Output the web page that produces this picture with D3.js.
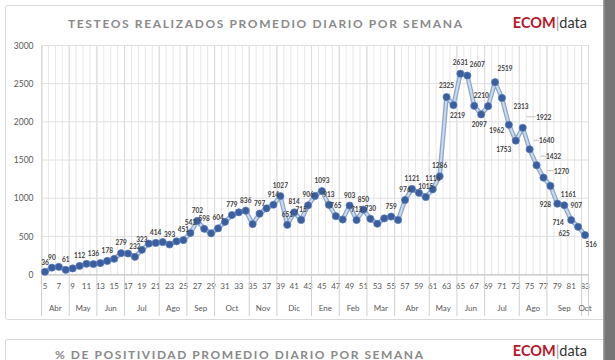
<!DOCTYPE html>
<html>
<head>
<meta charset="utf-8">
<script src="https://cdn.jsdelivr.net/npm/d3@7"></script>
<style>
  html, body { margin: 0; padding: 0; background: #ffffff; }
  svg { display: block; }
</style>
</head>
<body>
<svg id="chart" width="615" height="360"></svg>
<script>
// ---------------- DATA ----------------
const weeks = [5,6,7,8,9,10,11,12,13,14,15,16,17,18,19,20,21,22,23,24,25,26,27,28,29,30,31,32,33,34,35,36,37,38,39,40,41,42,43,44,
  45,46,47,48,49,50,51,52,53,54,55,56,57,58,59,60,61,62,63,64,65,66,67,68,69,70,71,72,73,74,75,76,77,78,79,80,81,82,83];
const testsPerDay = [36,90,100,61,80,112,140,136,150,178,205,279,275,232,323,405,414,425,393,435,
  451,543,702,598,540,604,690,779,815,836,660,797,867,914,1027,651,814,715,906,1030,
  1093,913,765,720,903,713,850,730,665,735,759,714,976,1121,1070,1015,1116,1286,2325,2219,
  2631,2607,2210,2097,2205,2519,2313,1962,1753,1922,1640,1432,1270,1161,928,907,714,625,516];
const labelledWeeks = [5,6,8,10,12,14,16,18,19,21,23,25,26,27,28,30,32,34,36,38,39,40,41,42,43,45,46,47,49,50,51,52,55,
  57,58,60,61,62,63,64,65,66,67,68,70,71,72,73,74,75,76,77,78,79,80,81,82,83];
const yTicks = [0,500,1000,1500,2000,2500,3000];
const weekTickLabels = [5,7,9,11,13,15,17,19,21,23,25,27,29,31,33,35,37,39,41,43,45,47,49,51,53,55,57,59,61,63,65,67,69,71,73,75,77,79,81,83];
const monthNames = ["Abr","May","Jun","Jul","Ago","Sep","Oct","Nov","Dic","Ene","Feb","Mar","Abr","May","Jun","Jul","Ago","Sep","Oct"];
const monthFirstWeek = [5,9,13,17,22,26,30,35,39,44,48,52,56,61,65,69,74,78,83];
const title1 = "TESTEOS REALIZADOS  PROMEDIO DIARIO POR SEMANA";
const title2 = "% DE POSITIVIDAD PROMEDIO DIARIO POR SEMANA";

// ---------------- DRAW ----------------
const svg = d3.select("#chart");
const FONT = "Lato, 'Open Sans', 'DejaVu Sans', sans-serif";

// panels
svg.append("rect").attr("x",5.5).attr("y",5.5).attr("width",602).attr("height",314)
  .attr("rx",2).attr("fill","#fff").attr("stroke","#d9d9d9");
svg.append("rect").attr("x",5.5).attr("y",339.5).attr("width",602).attr("height",60)
  .attr("rx",2).attr("fill","#fff").attr("stroke","#d9d9d9");

const pLeft = 41.5, pRight = 588.5, pTop = 45.5, pBottom = 274.5;
const x = d3.scaleBand().domain(weeks).range([pLeft, pRight]).padding(0);
const bw = x.bandwidth();
const cx = w => x(w) + bw / 2;
const y = d3.scaleLinear().domain([0, 3000]).range([pBottom, pTop]);

const grid = svg.append("g");
grid.selectAll("line.vg").data(weeks.concat([null])).join("line")
  .attr("x1", (d,i) => pLeft + i*bw).attr("x2", (d,i) => pLeft + i*bw)
  .attr("y1", pTop).attr("y2", pBottom)
  .attr("stroke", "#e8e8e8").attr("stroke-width", 1);
const monthBounds = monthFirstWeek.slice(1).map(w => x(w)).concat([pRight]);
grid.selectAll("line.mb").data(monthBounds).join("line")
  .attr("x1", d => d).attr("x2", d => d)
  .attr("y1", pTop).attr("y2", pBottom)
  .attr("stroke", "#dadada").attr("stroke-width", 1);
grid.selectAll("line.hg").data(yTicks).join("line")
  .attr("x1", pLeft).attr("x2", pRight)
  .attr("y1", d => y(d)).attr("y2", d => y(d))
  .attr("stroke", "#e0e0e0").attr("stroke-width", 1);

// y axis
const yAxis = svg.append("g").attr("transform", `translate(${pLeft},0)`)
  .call(d3.axisLeft(y).tickValues(yTicks).tickSize(0).tickPadding(8).tickFormat(d3.format("d")));
yAxis.select(".domain").attr("stroke", "#d0d0d0");
yAxis.selectAll("text").attr("font-family", FONT).attr("font-size", 8.5).attr("fill", "#595959");

// x axis (weeks)
const xAxis = svg.append("g").attr("transform", `translate(0,${pBottom})`)
  .call(d3.axisBottom(x).tickValues(weekTickLabels).tickSize(0).tickPadding(8.5));
xAxis.select(".domain").attr("stroke", "#bfbfbf");
xAxis.selectAll("text").attr("font-family", FONT).attr("font-size", 8).attr("fill", "#595959");

// month separators in axis area
const axisSeps = [pLeft].concat(monthBounds);
svg.append("g").selectAll("line").data(axisSeps).join("line")
  .attr("x1", d => d).attr("x2", d => d)
  .attr("y1", pBottom).attr("y2", 316)
  .attr("stroke", "#d0d0d0").attr("stroke-width", 1);
svg.append("g").selectAll("text").data(monthNames).join("text")
  .attr("x", (d,i) => {
    const a = x(monthFirstWeek[i]);
    const b = i + 1 < monthFirstWeek.length ? x(monthFirstWeek[i+1]) : pRight;
    return (a + b) / 2;
  })
  .attr("y", 310.5)
  .attr("text-anchor", "middle")
  .attr("font-family", FONT).attr("font-size", 8).attr("fill", "#595959")
  .text(d => d);

// line
const pts = weeks.map((w,i) => [cx(w), y(testsPerDay[i])]);
const line = d3.line();
svg.append("path").attr("d", line(pts)).attr("fill","none")
  .attr("stroke","#8fa8c9").attr("stroke-width",4.6).attr("stroke-linejoin","round");
svg.append("path").attr("d", line(pts)).attr("fill","none")
  .attr("stroke","#c9daef").attr("stroke-width",2).attr("stroke-linejoin","round");

// markers
svg.append("g").selectAll("circle").data(weeks).join("circle")
  .attr("cx", w => cx(w)).attr("cy", (w,i) => y(testsPerDay[i]))
  .attr("r", 3.6).attr("fill", "#3a5e9e").attr("stroke", "#5a7dba").attr("stroke-width", 0.7);

// data labels
const labelOffset = {
  5:[0,-7], 63:[0,-9], 64:[4,13], 65:[0,-9], 66:[10,-8], 67:[7,-8], 68:[-2,13],
  70:[10,-11], 71:[19,11], 72:[-12,8], 73:[-12,11], 74:[21,-8], 75:[17,-6], 76:[17,-6],
  77:[18,-4], 78:[18,11], 79:[-12,3], 80:[12,3], 81:[-13,5], 82:[-14,9], 83:[6,12]
};
const leaderWeeks = [74,75,76,77];
svg.append("g").selectAll("line").data(leaderWeeks).join("line")
  .attr("x1", w => cx(w) + 4).attr("x2", w => cx(w) + labelOffset[w][0] - 8)
  .attr("y1", w => y(testsPerDay[weeks.indexOf(w)]) + labelOffset[w][1] - 3)
  .attr("y2", w => y(testsPerDay[weeks.indexOf(w)]) + labelOffset[w][1] - 3)
  .attr("stroke", "#a6a6a6").attr("stroke-width", 0.7);
svg.append("g").selectAll("text").data(labelledWeeks).join("text")
  .attr("x", w => cx(w) + (labelOffset[w] ? labelOffset[w][0] : 0))
  .attr("y", w => y(testsPerDay[weeks.indexOf(w)]) + (labelOffset[w] ? labelOffset[w][1] : -8))
  .attr("text-anchor", "middle")
  .attr("font-family", FONT).attr("font-size", 6.5).attr("font-weight", "bold").attr("fill", "#404040")
  .text(w => testsPerDay[weeks.indexOf(w)]);

// titles
svg.append("text").attr("x", 68).attr("y", 28)
  .attr("textLength", 394).attr("lengthAdjust", "spacing")
  .attr("font-family", FONT).attr("font-size", 12).attr("font-weight", "bold").attr("fill", "#8a8a8a")
  .text(title1);
svg.append("text").attr("x", 55).attr("y", 358.5)
  .attr("textLength", 368).attr("lengthAdjust", "spacing")
  .attr("font-family", FONT).attr("font-size", 12).attr("font-weight", "bold").attr("fill", "#8a8a8a")
  .text(title2);

// logos
function logo(yb) {
  const t = svg.append("text").attr("x", 587).attr("y", yb).attr("text-anchor", "end")
    .attr("font-family", FONT).attr("font-size", 14.5);
  t.append("tspan").attr("font-weight", "bold").attr("fill", "#b5172a").text("ECOM");
  t.append("tspan").attr("fill", "#9a9a9a").text("|");
  t.append("tspan").attr("fill", "#333333").text("data");
}
logo(28);
logo(356);

// right grey bar
svg.append("rect").attr("x", 603).attr("y", 0).attr("width", 12).attr("height", 360).attr("fill", "#767676");
svg.append("rect").attr("x", 603).attr("y", 0).attr("width", 1.5).attr("height", 360).attr("fill", "#a0a0a0");
</script>
</body>
</html>
